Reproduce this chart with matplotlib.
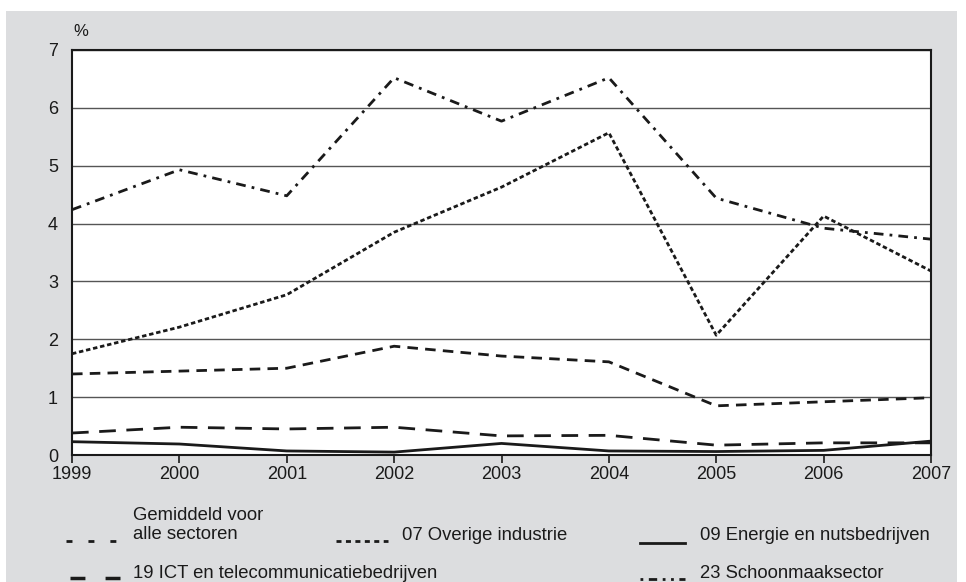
import matplotlib
matplotlib.use("Agg")
import matplotlib.pyplot as plt
from matplotlib.lines import Line2D
from matplotlib.patches import Rectangle

plt.rcParams['font.family'] = ['Liberation Sans', 'DejaVu Sans']

years = [1999, 2000, 2001, 2002, 2003, 2004, 2005, 2006, 2007]
gemiddeld = [1.40, 1.45, 1.50, 1.88, 1.71, 1.61, 0.85, 0.92, 0.99]
overige_industrie = [1.75, 2.21, 2.77, 3.85, 4.63, 5.57, 2.07, 4.13, 3.18]
energie = [0.23, 0.19, 0.07, 0.05, 0.20, 0.07, 0.06, 0.08, 0.24]
ict = [0.38, 0.48, 0.45, 0.48, 0.33, 0.34, 0.17, 0.21, 0.21]
schoonmaak = [4.24, 4.93, 4.48, 6.52, 5.77, 6.52, 4.44, 3.92, 3.73]
labels = ["Gemiddeld voor\nalle sectoren", "07 Overige industrie",
          "09 Energie en nutsbedrijven", "19 ICT en telecommunicatiebedrijven",
          "23 Schoonmaaksector"]

W, H = 966, 582
fig = plt.figure(figsize=(W / 100, H / 100), dpi=100)
fig.patch.set_facecolor('white')
fig.add_artist(Rectangle((6 / W, 0), 951 / W, 571 / H, transform=fig.transFigure,
                         facecolor='#dcdddf', edgecolor='none', zorder=0))

ax = fig.add_axes([72 / W, 1 - 455 / H, (931 - 72) / W, (455 - 50) / H])
ax.set_facecolor('white')

styles = {
    'gem': dict(color='#1a1a1a', lw=2.0, dashes=(3.8, 2.6)),
    'ovi': dict(color='#1a1a1a', lw=2.0, dashes=(1.6, 1.0)),
    'ene': dict(color='#1a1a1a', lw=2.0, linestyle='-'),
    'ict': dict(color='#1a1a1a', lw=2.0, dashes=(6.0, 3.8)),
    'sch': dict(color='#1a1a1a', lw=2.0, dashes=(3.5, 2.2, 1.0, 2.2)),
}
series = [('gem', gemiddeld), ('ovi', overige_industrie), ('ene', energie),
          ('ict', ict), ('sch', schoonmaak)]
for key, vals in series:
    ax.plot(years, vals, zorder=3, **styles[key])

ax.set_xlim(1999, 2007)
ax.set_ylim(0, 7)
ax.set_xticks(years)
ax.set_yticks(range(0, 8))
ax.yaxis.grid(True, color='#555555', lw=1.0)
ax.set_axisbelow(True)
for s in ax.spines.values():
    s.set_color('#1a1a1a')
    s.set_linewidth(1.5)
ax.tick_params(axis='y', length=0, pad=10, labelsize=13, colors='#1a1a1a')
ax.tick_params(axis='x', length=6, width=1.2, pad=2, labelsize=13, colors='#1a1a1a')
fig.text(73 / W, 1 - 31 / H, '%', fontsize=12, ha='left', va='center', color='#1a1a1a')

# legend (manual, in figure pixels)
legend_handles = {
    'gem': dict(color='#1a1a1a', lw=2.0, dashes=(2.15, 5.75)),
    'ovi': dict(color='#1a1a1a', lw=2.0, dashes=(1.8, 1.6)),
    'ene': dict(color='#1a1a1a', lw=2.0, linestyle='-'),
    'ict': dict(color='#1a1a1a', lw=2.5, dashes=(4.3, 5.8)),
    'sch': dict(color='#1a1a1a', lw=2.0, dashes=(1.0, 2.0, 3.0, 2.0, 1.0, 2.0)),
}

def handle(x0, x1, y, key):
    fig.add_artist(Line2D([x0 / W, x1 / W], [1 - y / H, 1 - y / H],
                          transform=fig.transFigure, **legend_handles[key]))

fs = 13.3
tc = '#1a1a1a'
handle(66, 116, 541, 'gem')
fig.text(133 / W, 1 - 525 / H, labels[0], fontsize=fs, ha='left', va='center',
         linespacing=1.15, color=tc)
handle(336, 388, 541, 'ovi')
fig.text(402 / W, 1 - 536 / H, labels[1], fontsize=fs, ha='left', va='center', color=tc)
handle(640, 685, 543, 'ene')
fig.text(700 / W, 1 - 536 / H, labels[2], fontsize=fs, ha='left', va='center', color=tc)
handle(70, 120, 578, 'ict')
fig.text(133 / W, 1 - 573 / H, labels[3], fontsize=fs, ha='left', va='center', color=tc)
handle(640, 685, 579, 'sch')
fig.text(700 / W, 1 - 573 / H, labels[4], fontsize=fs, ha='left', va='center', color=tc)

fig.savefig('out.png', dpi=100)
